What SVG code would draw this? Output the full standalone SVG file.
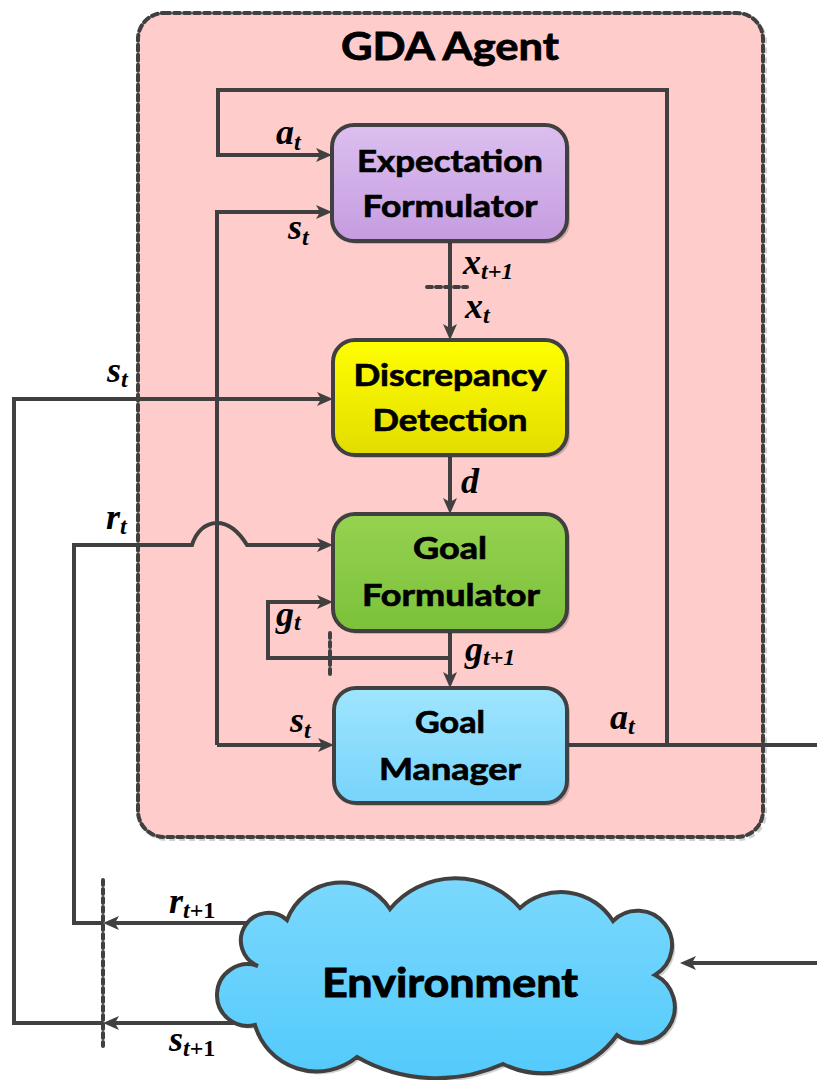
<svg xmlns="http://www.w3.org/2000/svg" width="817" height="1080" viewBox="0 0 817 1080">
  <defs>
    <linearGradient id="gPurple" x1="0" y1="0" x2="0" y2="1">
      <stop offset="0" stop-color="#dcbfef"/>
      <stop offset="1" stop-color="#c59ce0"/>
    </linearGradient>
    <linearGradient id="gYellow" x1="0" y1="0" x2="0" y2="1">
      <stop offset="0" stop-color="#ffff00"/>
      <stop offset="1" stop-color="#e3dc00"/>
    </linearGradient>
    <linearGradient id="gGreen" x1="0" y1="0" x2="0" y2="1">
      <stop offset="0" stop-color="#95d250"/>
      <stop offset="1" stop-color="#7cc13a"/>
    </linearGradient>
    <linearGradient id="gSky" x1="0" y1="0" x2="0" y2="1">
      <stop offset="0" stop-color="#9fe5fe"/>
      <stop offset="1" stop-color="#77d4fb"/>
    </linearGradient>
    <linearGradient id="gCloud" x1="0" y1="0" x2="0" y2="1">
      <stop offset="0" stop-color="#7bd8fd"/>
      <stop offset="1" stop-color="#53cafb"/>
    </linearGradient>
    <marker id="ah" viewBox="0 0 16 14" refX="8" refY="7" markerWidth="16" markerHeight="14" orient="auto" markerUnits="userSpaceOnUse">
      <path d="M0,0 L16,7 L0,14 L4,7 z" fill="#404040"/>
    </marker>
  </defs>
  <style>
    .box { stroke: #404040; stroke-width: 4; }
    .shadow { fill: #000; opacity: 0.18; }
    .wire { fill: none; stroke: #404040; stroke-width: 4; stroke-linejoin: miter; }
    .arrow { marker-end: url(#ah); }
    .dots { fill: none; stroke: #404040; stroke-width: 4; stroke-dasharray: 5 4; stroke-linecap: round; }
    .title { font-family: Lato, "Open Sans", sans-serif; font-weight: bold; font-size: 38px; fill: #000; stroke: #000; stroke-width: 0.8; text-anchor: middle; }
    .lbl { font-family: Lato, "Open Sans", sans-serif; font-weight: bold; font-size: 31px; fill: #000; stroke: #000; stroke-width: 0.7; text-anchor: middle; }
    .env { font-family: Lato, "Open Sans", sans-serif; font-weight: bold; font-size: 40px; fill: #000; stroke: #000; stroke-width: 0.9; text-anchor: middle; }
    .math { font-family: "Liberation Serif", "Times New Roman", "DejaVu Serif", serif; font-weight: bold; font-style: italic; font-size: 36px; fill: #000; }
    .sub { font-size: 24px; }
    .up { font-style: normal; }
  </style>

  <!-- agent container -->
  <g id="gda-agent">
    <rect x="140" y="15" width="625" height="824" rx="26" fill="none" stroke="#000" stroke-opacity="0.18" stroke-width="4" stroke-dasharray="6 4"/>
    <rect x="138" y="13" width="625" height="824" rx="26" fill="#ffcccc" stroke="#404040" stroke-width="4" stroke-dasharray="6 4" stroke-linecap="round"/>
    <text class="title" x="450" y="60" textLength="218" lengthAdjust="spacingAndGlyphs">GDA Agent</text>
  </g>

  <!-- connectors -->
  <g id="connectors">
    <!-- a_t fed back to the expectation formulator -->
    <path class="wire arrow" d="M667,745 L667,90 L218,90 L218,155 L324,155"/>
    <!-- s_t distribution bus -->
    <path class="wire arrow" d="M217,745 L217,212 L324,212"/>
    <path class="wire arrow" d="M217,745 L326,745"/>
    <!-- a_t out to the environment -->
    <path class="wire" d="M567,745 L817,745"/>
    <path class="wire arrow" d="M817,963 L688,963"/>
    <!-- x, d, g chain -->
    <path class="wire arrow" d="M450,241 L450,332"/>
    <path class="wire arrow" d="M450,455 L450,506"/>
    <path class="wire arrow" d="M450,631 L450,680"/>
    <path class="wire arrow" d="M450,658 L268,658 L268,602 L325,602"/>
    <!-- reward path with hop over the s_t bus -->
    <path class="wire arrow" d="M250,923 L111,923"/>
    <path class="wire arrow" d="M103,923 L74,923 L74,545 L192,545 C196,532 205,523 217,523 C229,523 239,532 247,545 L325,545"/>
    <!-- state path -->
    <path class="wire arrow" d="M252,1023 L111,1023"/>
    <path class="wire arrow" d="M103,1023 L14,1023 L14,399 L325,399"/>
    <!-- time-step separators -->
    <path class="dots" d="M427,287 L467,287"/>
    <path class="dots" d="M330,633 L330,677"/>
    <path class="dots" d="M103,880 L103,1046"/>
  </g>

  <!-- signal labels -->
  <g id="labels">
    <text class="math" x="276" y="144">a<tspan class="sub" dy="6">t</tspan></text>
    <text class="math" x="288" y="239">s<tspan class="sub" dy="6">t</tspan></text>
    <text class="math" x="463" y="274">x<tspan class="sub" dy="5">t+1</tspan></text>
    <text class="math" x="465" y="318">x<tspan class="sub" dy="5">t</tspan></text>
    <text class="math" x="107" y="382">s<tspan class="sub" dy="5">t</tspan></text>
    <text class="math" x="106" y="529">r<tspan class="sub" dy="5">t</tspan></text>
    <text class="math" x="461" y="493">d</text>
    <text class="math" x="276" y="626">g<tspan class="sub" dy="4">t</tspan></text>
    <text class="math" x="465" y="661">g<tspan class="sub" dy="4">t+1</tspan></text>
    <text class="math" x="290" y="732">s<tspan class="sub" dy="6">t</tspan></text>
    <text class="math" x="610" y="729">a<tspan class="sub" dy="5">t</tspan></text>
    <text class="math" x="169" y="913">r<tspan class="sub" dy="5">t<tspan class="up">+1</tspan></tspan></text>
    <text class="math" x="169" y="1051">s<tspan class="sub" dy="5">t<tspan class="up">+1</tspan></tspan></text>
  </g>

  <g id="expectation-formulator">
    <rect class="shadow" x="335" y="128" width="235" height="116" rx="22"/>
    <rect class="box" x="332" y="125" width="235" height="116" rx="22" fill="url(#gPurple)"/>
    <text class="lbl" x="450" y="172" textLength="186" lengthAdjust="spacingAndGlyphs">Expectation</text>
    <text class="lbl" x="450" y="217" textLength="175" lengthAdjust="spacingAndGlyphs">Formulator</text>
  </g>

  <g id="discrepancy-detection">
    <rect class="shadow" x="336" y="343" width="234" height="115" rx="22"/>
    <rect class="box" x="333" y="340" width="234" height="115" rx="22" fill="url(#gYellow)"/>
    <text class="lbl" x="450" y="386" textLength="193" lengthAdjust="spacingAndGlyphs">Discrepancy</text>
    <text class="lbl" x="450" y="431" textLength="155" lengthAdjust="spacingAndGlyphs">Detection</text>
  </g>

  <g id="goal-formulator">
    <rect class="shadow" x="336" y="517" width="234" height="117" rx="22"/>
    <rect class="box" x="333" y="514" width="234" height="117" rx="22" fill="url(#gGreen)"/>
    <text class="lbl" x="450" y="559" textLength="74" lengthAdjust="spacingAndGlyphs">Goal</text>
    <text class="lbl" x="451" y="606" textLength="178" lengthAdjust="spacingAndGlyphs">Formulator</text>
  </g>

  <g id="goal-manager">
    <rect class="shadow" x="337" y="691" width="233" height="115" rx="22"/>
    <rect class="box" x="334" y="688" width="233" height="115" rx="22" fill="url(#gSky)"/>
    <text class="lbl" x="450" y="733" textLength="70" lengthAdjust="spacingAndGlyphs">Goal</text>
    <text class="lbl" x="450" y="780" textLength="142" lengthAdjust="spacingAndGlyphs">Manager</text>
  </g>

  <g id="environment">
    <path class="shadow" transform="translate(3,3)" d="M287,920 A58,58 0 0 1 390,909 A85,85 0 0 1 520,908 A61,61 0 0 1 613,921 A34.5,34.5 0 1 1 655,975 A35.7,35.7 0 1 1 617,1035 A91,91 0 0 1 503,1064 A161,161 0 0 1 357,1057 A64,64 0 0 1 255,1025 A30.8,30.8 0 1 1 258,966 A27.6,27.6 0 1 1 287,920 Z"/>
    <path class="box" fill="url(#gCloud)" d="M287,920 A58,58 0 0 1 390,909 A85,85 0 0 1 520,908 A61,61 0 0 1 613,921 A34.5,34.5 0 1 1 655,975 A35.7,35.7 0 1 1 617,1035 A91,91 0 0 1 503,1064 A161,161 0 0 1 357,1057 A64,64 0 0 1 255,1025 A30.8,30.8 0 1 1 258,966 A27.6,27.6 0 1 1 287,920 Z"/>
    <text class="env" x="450" y="997" textLength="256" lengthAdjust="spacingAndGlyphs">Environment</text>
  </g>
</svg>
